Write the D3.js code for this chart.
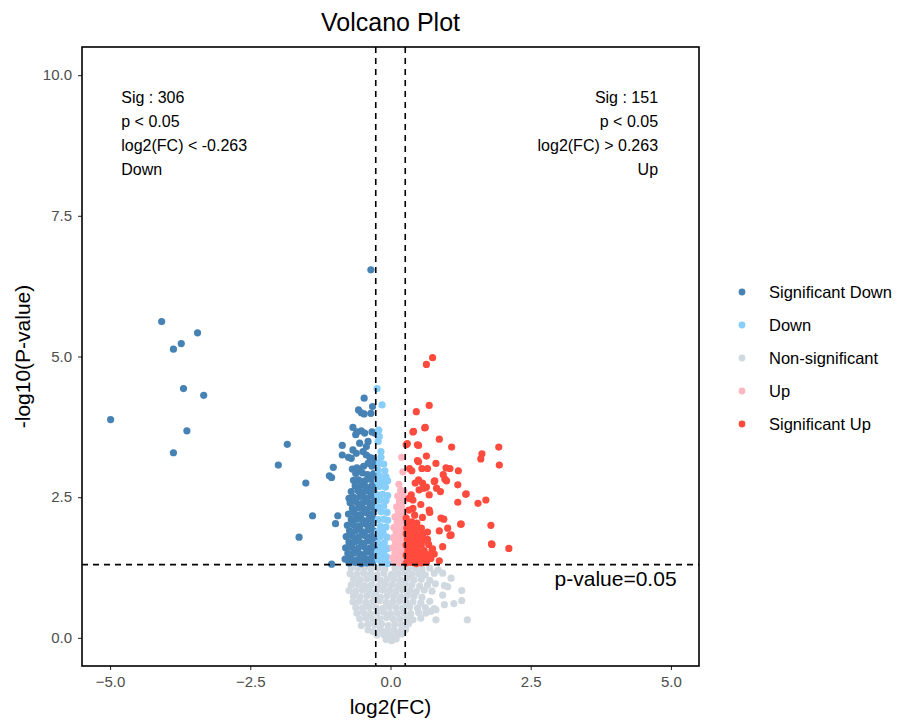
<!DOCTYPE html>
<html>
<head>
<meta charset="utf-8">
<script src="https://cdn.jsdelivr.net/npm/d3@7"></script>
<style>
  body { margin: 0; background: #fff; }
  svg { font-family: "Liberation Sans", Arial, sans-serif; }
</style>
</head>
<body>
<div class="mainCont"></div>
<script>
// groups in legend order
var groups = ["Significant Down", "Down", "Non-significant", "Up", "Significant Up"];
var groupColors = ["#4682B4", "#87CEFA", "#D1D9E0", "#FFB6C1", "#FF4B3E"];

// thresholds
var fcCut = 0.263;
var pCut = 0.05;

// axis ticks
var xTicks = [-5, -2.5, 0, 2.5, 5];
var yTicks = [0, 2.5, 5, 7.5, 10];

// annotation texts
var downNote = ["Sig : 306", "p < 0.05", "log2(FC) < -0.263", "Down"];
var upNote = ["Sig : 151", "p < 0.05", "log2(FC) > 0.263", "Up"];

// [log2FC, -log10 p]
var nonSig = [
  [-0.70,1.24],[-0.58,1.24],[-0.46,1.25],[-0.34,1.23],[-0.22,1.24],[-0.10,1.22],[0.08,1.24],[0.20,1.25],[0.32,1.23],[0.44,1.24],[0.56,1.22],[0.70,1.24],[0.85,1.21],
  [-0.72,1.14],[-0.60,1.13],[-0.48,1.15],[-0.36,1.14],[-0.24,1.12],[-0.12,1.15],[0.02,1.13],[0.14,1.14],[0.26,1.15],[0.38,1.13],[0.50,1.14],[0.62,1.12],[0.78,1.15],[0.93,1.15],[1.08,1.06],
  [-0.66,1.04],[-0.54,1.03],[-0.42,1.05],[-0.30,1.04],[-0.18,1.02],[-0.06,1.05],[0.06,1.04],[0.18,1.03],[0.30,1.05],[0.42,1.03],[0.55,1.04],[0.70,1.02],[0.96,0.93],
  [-0.70,0.94],[-0.58,0.95],[-0.46,0.93],[-0.34,0.94],[-0.22,0.92],[-0.10,0.95],[0.02,0.94],[0.14,0.93],[0.26,0.95],[0.38,0.94],[0.52,0.92],[0.66,0.94],[0.80,0.96],[1.02,0.91],
  [-0.74,0.84],[-0.62,0.83],[-0.50,0.85],[-0.38,0.84],[-0.26,0.82],[-0.14,0.85],[-0.02,0.84],[0.10,0.83],[0.22,0.85],[0.34,0.84],[0.46,0.82],[0.60,0.85],[0.74,0.83],[1.27,0.84],
  [-0.66,0.74],[-0.54,0.73],[-0.42,0.75],[-0.30,0.74],[-0.18,0.72],[-0.06,0.75],[0.06,0.74],[0.18,0.73],[0.30,0.75],[0.42,0.74],[0.56,0.72],[0.93,0.76],
  [-0.67,0.64],[-0.56,0.65],[-0.44,0.63],[-0.32,0.64],[-0.20,0.66],[-0.08,0.63],[0.04,0.64],[0.16,0.65],[0.28,0.63],[0.40,0.64],[0.54,0.62],[0.70,0.65],[1.13,0.61],[1.27,0.66],
  [-0.62,0.54],[-0.50,0.53],[-0.38,0.55],[-0.26,0.54],[-0.14,0.52],[-0.02,0.55],[0.10,0.54],[0.22,0.53],[0.34,0.55],[0.48,0.53],[0.62,0.54],[0.78,0.52],[0.96,0.59],
  [-0.60,0.44],[-0.48,0.45],[-0.36,0.43],[-0.24,0.44],[-0.12,0.46],[0.00,0.43],[0.12,0.44],[0.24,0.45],[0.36,0.43],[0.50,0.45],[0.63,0.44],[0.72,0.47],[0.81,0.50],
  [-0.55,0.34],[-0.43,0.35],[-0.31,0.33],[-0.19,0.34],[-0.07,0.36],[0.05,0.33],[0.17,0.34],[0.29,0.35],[0.40,0.32],[0.54,0.35],[0.81,0.32],[1.37,0.32],
  [-0.52,0.22],[-0.40,0.24],[-0.28,0.23],[-0.16,0.25],[-0.04,0.22],[0.08,0.24],[0.20,0.23],[0.32,0.25],
  [-0.40,0.14],[-0.31,0.11],[-0.18,0.15],[-0.06,0.13],[0.06,0.14],[0.18,0.12],[0.27,0.15],
  [-0.24,0.05],[-0.12,0.06],[0.00,0.04],[0.12,0.05],[0.20,0.07],
  [-0.08,-0.03],[0.02,-0.05],[0.10,-0.02]
];

var sigDown = [
  [-4.08,5.62],[-3.44,5.42],[-3.73,5.23],[-3.87,5.13],[-3.69,4.43],[-3.33,4.31],[-4.99,3.88],[-3.63,3.68],[-3.87,3.29],
  [-1.84,3.44],[-2.00,3.07],[-1.51,2.75],[-1.39,2.17],[-1.63,1.79],[-0.35,6.54],[-1.05,1.31],
  [-0.47,4.26],[-0.32,4.11],[-0.57,4.05],[-0.52,4.00],[-0.47,3.98],[-0.35,3.99],[-0.67,3.74],[-0.60,3.66],[-0.52,3.68],
  [-0.46,3.64],[-0.62,3.61],[-0.33,3.66],[-0.28,3.64],[-0.86,3.42],[-0.55,3.46],[-0.40,3.49],[-0.43,3.40],[-0.86,3.25],
  [-0.67,3.34],[-0.61,3.28],[-0.70,3.19],[-0.49,3.31],[-0.43,3.25],[-0.37,3.21],[-0.31,3.19],[-0.75,3.21],[-1.02,3.03],
  [-1.09,2.88],[-1.05,2.85],[-0.68,3.00],[-0.60,3.02],[-0.55,2.98],[-0.48,3.05],[-0.40,3.10],[-0.33,3.05],[-0.28,3.12],
  [-0.94,2.17],[-0.98,2.03],[-0.74,2.48],
  [-0.62,2.92],[-0.50,2.93],[-0.41,2.90],[-0.30,2.92],
  [-0.66,2.80],[-0.57,2.81],[-0.46,2.79],[-0.36,2.82],[-0.29,2.80],
  [-0.63,2.70],[-0.52,2.71],[-0.44,2.69],[-0.33,2.70],[-0.27,2.72],
  [-0.70,2.60],[-0.58,2.62],[-0.49,2.59],[-0.39,2.61],[-0.30,2.60],
  [-0.66,2.50],[-0.55,2.51],[-0.45,2.49],[-0.35,2.52],[-0.28,2.50],
  [-0.72,2.40],[-0.61,2.41],[-0.50,2.39],[-0.41,2.42],[-0.31,2.40],
  [-0.68,2.30],[-0.57,2.31],[-0.47,2.29],[-0.37,2.32],[-0.28,2.30],
  [-0.75,2.20],[-0.64,2.21],[-0.53,2.19],[-0.42,2.22],[-0.32,2.20],
  [-0.70,2.10],[-0.60,2.11],[-0.49,2.09],[-0.38,2.12],[-0.29,2.10],
  [-0.77,2.00],[-0.66,2.01],[-0.55,1.99],[-0.44,2.02],[-0.34,2.00],
  [-0.73,1.90],[-0.62,1.91],[-0.51,1.89],[-0.40,1.92],[-0.30,1.90],
  [-0.79,1.80],[-0.68,1.81],[-0.57,1.79],[-0.46,1.82],[-0.35,1.80],[-0.28,1.79],
  [-0.74,1.70],[-0.63,1.71],[-0.52,1.69],[-0.41,1.72],[-0.31,1.70],
  [-0.80,1.60],[-0.69,1.61],[-0.58,1.59],[-0.47,1.62],[-0.36,1.60],[-0.28,1.61],
  [-0.76,1.50],[-0.65,1.51],[-0.54,1.49],[-0.43,1.52],[-0.33,1.50],
  [-0.81,1.40],[-0.70,1.41],[-0.59,1.39],[-0.48,1.42],[-0.38,1.40],[-0.29,1.41],
  [-0.74,1.33],[-0.63,1.34],[-0.52,1.32],[-0.42,1.33],[-0.32,1.34]
];

var down = [
  [-0.24,4.43],[-0.15,4.14],[-0.21,3.69],[-0.22,3.49],[-0.20,3.58],[-0.17,3.31],[-0.17,3.21],
  [-0.20,3.10],[-0.12,3.09],[-0.22,2.98],[-0.10,2.97],[-0.19,2.87],[-0.08,2.86],
  [-0.23,2.78],[-0.13,2.77],[-0.05,2.79],[-0.20,2.69],[-0.09,2.68],
  [-0.23,2.54],[-0.14,2.55],[-0.05,2.53],[-0.19,2.45],[-0.08,2.44],
  [-0.22,2.33],[-0.12,2.34],[-0.17,2.24],[-0.06,2.23],
  [-0.22,2.10],[-0.12,2.11],[-0.05,2.09],[-0.18,1.98],[-0.08,1.97],
  [-0.23,1.88],[-0.13,1.87],[-0.18,1.80],[-0.06,1.79],
  [-0.22,1.68],[-0.11,1.69],[-0.16,1.60],[-0.05,1.59],
  [-0.23,1.53],[-0.12,1.52],[-0.18,1.45],[-0.07,1.44],
  [-0.22,1.39],[-0.10,1.38],[-0.16,1.33],[-0.05,1.32]
];

var up = [
  [0.20,3.21],[0.22,2.95],[0.15,2.73],
  [0.18,2.62],[0.24,2.61],[0.13,2.52],[0.22,2.51],[0.16,2.42],[0.24,2.43],
  [0.11,2.33],[0.20,2.32],[0.14,2.24],[0.23,2.25],
  [0.08,2.15],[0.18,2.14],[0.25,2.16],[0.12,2.05],[0.21,2.06],
  [0.06,1.96],[0.16,1.95],[0.24,1.97],[0.10,1.87],[0.20,1.86],
  [0.05,1.78],[0.14,1.77],[0.23,1.79],[0.09,1.69],[0.19,1.68],
  [0.04,1.60],[0.13,1.61],[0.22,1.59],[0.08,1.51],[0.17,1.52],[0.25,1.50],
  [0.04,1.42],[0.12,1.41],[0.21,1.43],[0.07,1.34],[0.16,1.33],[0.24,1.35]
];

var sigUp = [
  [0.75,4.98],[0.64,4.86],[0.69,4.13],[0.46,4.02],[0.62,3.74],[0.40,3.66],[0.87,3.53],[0.28,3.43],[0.50,3.42],
  [1.09,3.39],[1.63,3.27],[1.61,3.18],[1.93,3.39],[1.94,3.07],[0.64,3.23],[0.48,3.15],[0.81,3.10],[0.99,3.02],
  [1.06,3.01],[1.21,2.97],[0.94,2.90],[0.97,2.82],[1.20,2.72],[1.35,2.56],[1.70,2.45],[1.56,2.39],[1.20,2.41],
  [0.78,2.78],[0.63,2.67],[1.26,2.02],[1.79,2.00],[1.80,1.67],[2.11,1.59],[0.95,2.11],[1.08,1.83],[0.93,1.62],
  [0.75,1.58],[0.50,3.13],[0.56,3.01],[0.66,3.01],[0.38,2.97],[0.34,3.01],[0.79,2.79],[1.00,2.79],[0.50,2.81],
  [0.44,2.75],[0.57,2.75],[0.64,2.68],[0.82,2.66],[0.89,2.60],[0.51,2.63],[0.59,2.66],[1.34,2.55],[0.69,2.54],
  [0.37,2.54],[0.33,2.48],[0.40,2.45],[0.54,2.37],[0.69,2.27],[0.70,2.23],[0.33,2.27],[0.40,2.30],[0.43,2.18],
  [0.28,2.13],[0.57,2.14],[0.90,2.13],[1.25,2.02],[1.02,1.95],[0.87,1.90],[1.06,1.82],[0.66,1.88],[0.51,1.83],
  [0.40,1.95],[0.34,1.80],[0.46,1.74],[0.60,1.74],[1.81,1.66],[0.74,1.56],[0.78,1.49],[0.87,1.37],[0.30,3.45],
  [0.48,3.43],[0.61,3.73],[0.41,3.67],
  [0.30,2.05],[0.38,2.06],[0.47,2.04],
  [0.29,1.95],[0.35,1.96],[0.45,1.94],[0.55,1.95],
  [0.28,1.85],[0.38,1.86],[0.46,1.84],[0.58,1.85],
  [0.30,1.75],[0.36,1.76],[0.52,1.74],[0.66,1.75],
  [0.28,1.65],[0.37,1.66],[0.45,1.64],[0.55,1.65],[0.68,1.66],
  [0.31,1.55],[0.40,1.56],[0.49,1.54],[0.60,1.55],
  [0.28,1.47],[0.36,1.48],[0.45,1.46],[0.54,1.47],[0.66,1.48],
  [0.31,1.40],[0.41,1.41],[0.50,1.39],[0.60,1.40],[0.72,1.41],
  [0.28,1.33],[0.37,1.34],[0.46,1.32],[0.55,1.33],[0.64,1.34]
];

var series = [sigDown, down, nonSig, up, sigUp];
var drawOrder = [2, 0, 1, 3, 4];

var margin = { top: 47, right: 201, bottom: 56, left: 82 },
    width = 900 - margin.left - margin.right,
    height = 722 - margin.top - margin.bottom;

var x = d3.scaleLinear().domain([-5.5, 5.5]).range([0, width]);
var y = d3.scaleLinear().domain([-0.5, 10.5]).range([height, 0]);

var svg = d3.select(".mainCont").append("svg")
    .attr("width", 900)
    .attr("height", 722);

var g = svg.append("g")
    .attr("transform", "translate(" + margin.left + "," + margin.top + ")");

// points
drawOrder.forEach(function(k) {
    g.append("g").selectAll("circle")
        .data(series[k])
        .enter().append("circle")
        .attr("cx", function(d) { return x(d[0]); })
        .attr("cy", function(d) { return y(d[1]); })
        .attr("r", 3.6)
        .style("fill", groupColors[k]);
});

// threshold lines
var pLine = -Math.log10(pCut);
g.append("line")
    .attr("x1", 0).attr("x2", width)
    .attr("y1", y(pLine)).attr("y2", y(pLine))
    .attr("stroke", "#000").attr("stroke-width", 1.6).attr("stroke-dasharray", "6,5");
[-fcCut, fcCut].forEach(function(v) {
    g.append("line")
        .attr("x1", x(v)).attr("x2", x(v))
        .attr("y1", 0).attr("y2", height)
        .attr("stroke", "#000").attr("stroke-width", 1.6).attr("stroke-dasharray", "6,5");
});

// axes
var xAxis = g.append("g")
    .attr("transform", "translate(0," + height + ")")
    .call(d3.axisBottom(x).tickValues(xTicks).tickFormat(d3.format(".1f")).tickSize(4).tickPadding(6));
var yAxis = g.append("g")
    .call(d3.axisLeft(y).tickValues(yTicks).tickFormat(d3.format(".1f")).tickSize(4).tickPadding(6));
[xAxis, yAxis].forEach(function(a) {
    a.select(".domain").remove();
    a.selectAll("line").attr("stroke", "#333").attr("stroke-width", 1.1);
    a.selectAll("text").attr("fill", "#4d4d4d").style("font-size", "15px")
        .style("font-family", "'Liberation Sans', Arial, sans-serif");
});

// panel border
g.append("rect")
    .attr("width", width).attr("height", height)
    .attr("fill", "none").attr("stroke", "#000").attr("stroke-width", 1.6);

// annotations
downNote.forEach(function(t, i) {
    g.append("text")
        .attr("x", x(-4.8)).attr("y", y(9.6) + i * 24)
        .attr("dy", "0.35em")
        .style("font-size", "16px")
        .text(t);
});
upNote.forEach(function(t, i) {
    g.append("text")
        .attr("x", x(4.77)).attr("y", y(9.6) + i * 24)
        .attr("dy", "0.35em")
        .attr("text-anchor", "end")
        .style("font-size", "16px")
        .text(t);
});
g.append("text")
    .attr("x", x(5.1)).attr("y", y(1.05))
    .attr("dy", "0.35em")
    .attr("text-anchor", "end")
    .style("font-size", "21px")
    .text("p-value=0.05");

// titles
svg.append("text")
    .attr("x", margin.left + width / 2).attr("y", 31)
    .attr("text-anchor", "middle")
    .style("font-size", "25px")
    .text("Volcano Plot");
svg.append("text")
    .attr("x", margin.left + width / 2).attr("y", 714)
    .attr("text-anchor", "middle")
    .style("font-size", "21px")
    .text("log2(FC)");
svg.append("text")
    .attr("transform", "translate(30," + (margin.top + height / 2) + ") rotate(-90)")
    .attr("text-anchor", "middle")
    .style("font-size", "21px")
    .text("-log10(P-value)");

// legend
var legend = svg.append("g").attr("transform", "translate(742,292)");
groups.forEach(function(name, i) {
    legend.append("circle")
        .attr("cx", 0).attr("cy", i * 33)
        .attr("r", 3.4)
        .style("fill", groupColors[i]);
    legend.append("text")
        .attr("x", 27).attr("y", i * 33)
        .attr("dy", "0.35em")
        .style("font-size", "16.5px")
        .text(name);
});
</script>
</body>
</html>
